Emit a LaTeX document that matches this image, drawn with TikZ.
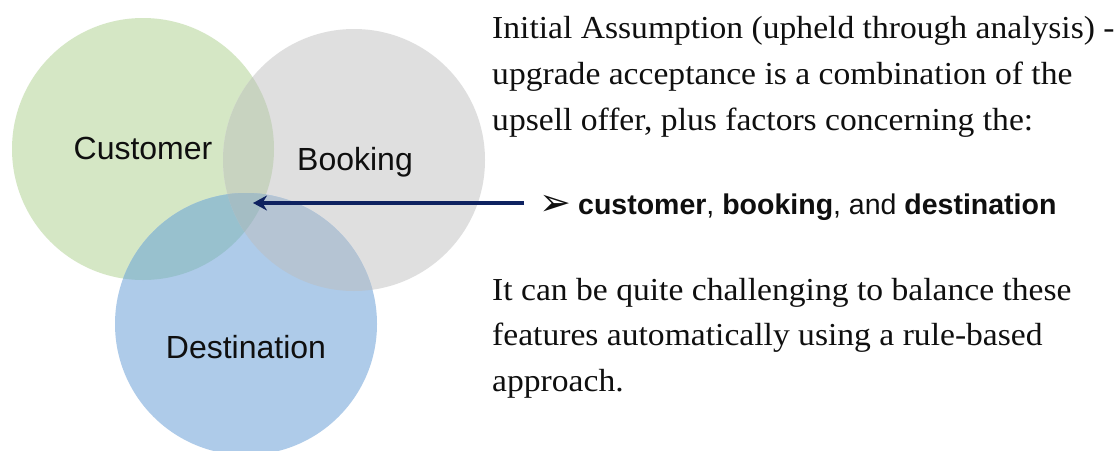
\documentclass[tikz,border=0pt]{standalone}
\usepackage{fontspec}
\setmainfont{Liberation Serif}[FakeStretch=1.05]
\newfontfamily\arialf{Liberation Sans}
\newfontfamily\dejavuf{DejaVu Sans}
\usetikzlibrary{arrows.meta}
\definecolor{cC}{RGB}{213,231,197}
\definecolor{cB}{RGB}{223,223,223}
\definecolor{cD}{RGB}{174,203,233}
\definecolor{cCB}{RGB}{200,211,192}
\definecolor{cCD}{RGB}{152,193,206}
\definecolor{cBD}{RGB}{181,196,211}
\definecolor{cCBD}{RGB}{164,189,196}
\definecolor{navy}{RGB}{14,34,96}
\definecolor{ink}{RGB}{15,15,15}
\tikzset{
  lbl/.style={anchor=base, inner sep=0pt, text=ink, font=\arialf\fontsize{32}{38}\selectfont},
  para/.style={anchor=base west, inner sep=0pt, text=ink, font=\fontsize{32}{46}\selectfont},
  bul/.style={anchor=base west, inner sep=0pt, text=ink},
  link/.style={navy, line width=3.5pt, -{Stealth[length=14pt,width=15pt]}}
}
\begin{document}
\begin{tikzpicture}[x=1pt,y=-1pt]
\useasboundingbox (0,0) rectangle (1119,450);
\clip (0,0) rectangle (1119,450);
\fill[white] (0,0) rectangle (1119,450);
\coordinate (C) at (143,149);
\coordinate (B) at (354,160);
\coordinate (D) at (246,324);
\def\rad{131pt}
\fill[cC] (C) circle (\rad);
\fill[cB] (B) circle (\rad);
\fill[cD] (D) circle (\rad);
\begin{scope}\clip (C) circle (\rad); \fill[cCB] (B) circle (\rad);\end{scope}
\begin{scope}\clip (C) circle (\rad); \fill[cCD] (D) circle (\rad);\end{scope}
\begin{scope}\clip (B) circle (\rad); \fill[cBD] (D) circle (\rad);\end{scope}
\begin{scope}\clip (C) circle (\rad); \clip (B) circle (\rad); \fill[cCBD] (D) circle (\rad);\end{scope}
\node[lbl] (cust) at (143,159) {Customer};
\node[lbl] (book) at (355,170) {Booking};
\node[lbl] (dest) at (246,358) {Destination};
\coordinate (tip) at (253,203);
\coordinate (tail) at (524,203);
\draw[link] (tail) -- (tip);
\node[para] (l1) at (492,38) {Initial Assumption (upheld through analysis) -};
\node[para] (l2) at (492,84) {upgrade acceptance is a combination of the};
\node[para] (l3) at (492,130) {upsell offer, plus factors concerning the:};
\node[bul, font=\dejavuf\fontsize{38}{40}\selectfont] (mark) at (539,215) {➢};
\node[bul, font=\arialf\fontsize{28.5}{34}\selectfont] (items) at (578,214) {\textbf{customer}, \textbf{booking}, and \textbf{destination}};
\node[para] (l4) at (492,300) {It can be quite challenging to balance these};
\node[para] (l5) at (492,345) {features automatically using a rule-based};
\node[para] (l6) at (492,391) {approach.};
\end{tikzpicture}
\end{document}
